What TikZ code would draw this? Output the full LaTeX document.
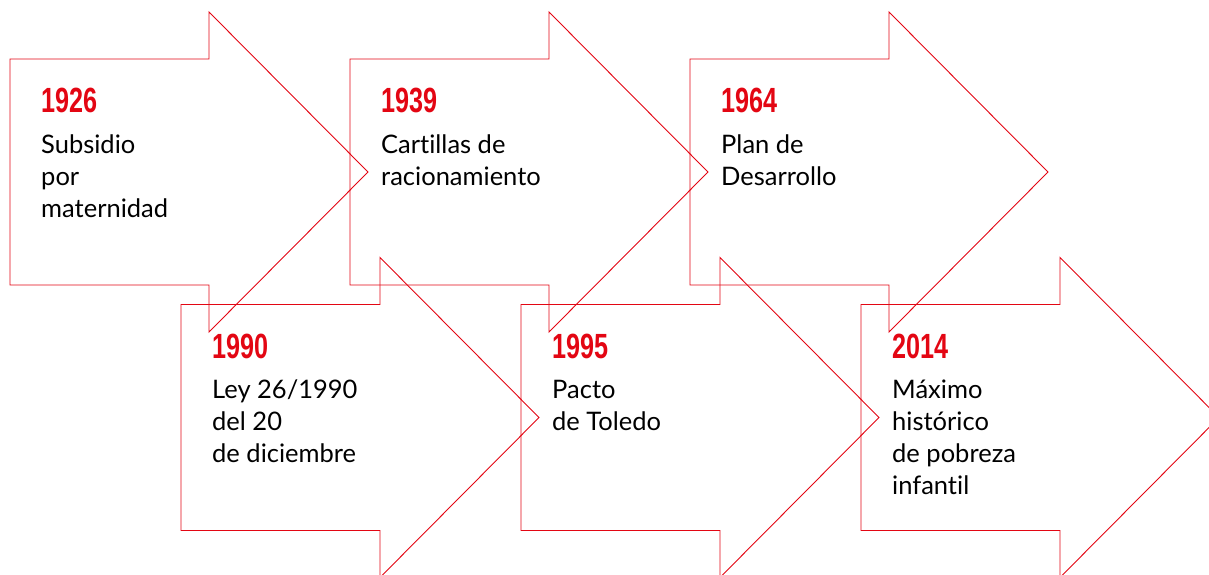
\documentclass[tikz,border=0pt]{standalone}
\usepackage{fontspec}
\setmainfont[Ligatures=NoCommon]{Lato}
\newfontfamily\yearfont[FakeStretch=0.72]{Liberation Sans}
\definecolor{timered}{HTML}{E30613}

\begin{document}
\begin{tikzpicture}[x=1pt, y=-1pt,
	arrowline/.style={timered, line width=0.9pt, line join=miter},
	year/.style={anchor=base west, inner sep=0pt, text=timered, font=\yearfont\bfseries\fontsize{35}{35}\selectfont},
	event/.style={anchor=base west, inner sep=0pt, align=left, font=\fontsize{25.5}{32}\selectfont}]
	\useasboundingbox (0,0) rectangle (1209,575);
	\clip (0,0) rectangle (1209,575);

	\draw[arrowline, shift={(10,0)}] (0,59) -- (199,59) -- (199,12) -- (358,172) -- (199,332) -- (199,285) -- (0,285) -- cycle;
	\draw[arrowline, shift={(350,0)}] (0,59) -- (199,59) -- (199,12) -- (358,172) -- (199,332) -- (199,285) -- (0,285) -- cycle;
	\draw[arrowline, shift={(690,0)}] (0,59) -- (199,59) -- (199,12) -- (358,172) -- (199,332) -- (199,285) -- (0,285) -- cycle;
	\draw[arrowline, shift={(181,245.5)}] (0,59) -- (199,59) -- (199,12) -- (358,172) -- (199,332) -- (199,285) -- (0,285) -- cycle;
	\draw[arrowline, shift={(521,245.5)}] (0,59) -- (199,59) -- (199,12) -- (358,172) -- (199,332) -- (199,285) -- (0,285) -- cycle;
	\draw[arrowline, shift={(861,245.5)}] (0,59) -- (199,59) -- (199,12) -- (358,172) -- (199,332) -- (199,285) -- (0,285) -- cycle;

	% base anchor of the event text sits on its last line
	\node[year] (y1926) at (41,113) {1926};
	\node[event] (e1926) at (41,217) {Subsidio\\por\\maternidad};
	\node[year] (y1939) at (381,113) {1939};
	\node[event] (e1939) at (381,185) {Cartillas de\\racionamiento};
	\node[year] (y1964) at (721,113) {1964};
	\node[event] (e1964) at (721,185) {Plan de\\Desarrollo};

	\node[year] (y1990) at (212,358.5) {1990};
	\node[event] (e1990) at (212,462.5) {Ley 26/1990\\del 20\\de diciembre};
	\node[year] (y1995) at (552,358.5) {1995};
	\node[event] (e1995) at (552,430.5) {Pacto\\de Toledo};
	\node[year] (y2014) at (892,358.5) {2014};
	\node[event] (e2014) at (892,494.5) {Máximo\\histórico\\de pobreza\\infantil};
\end{tikzpicture}
\end{document}
